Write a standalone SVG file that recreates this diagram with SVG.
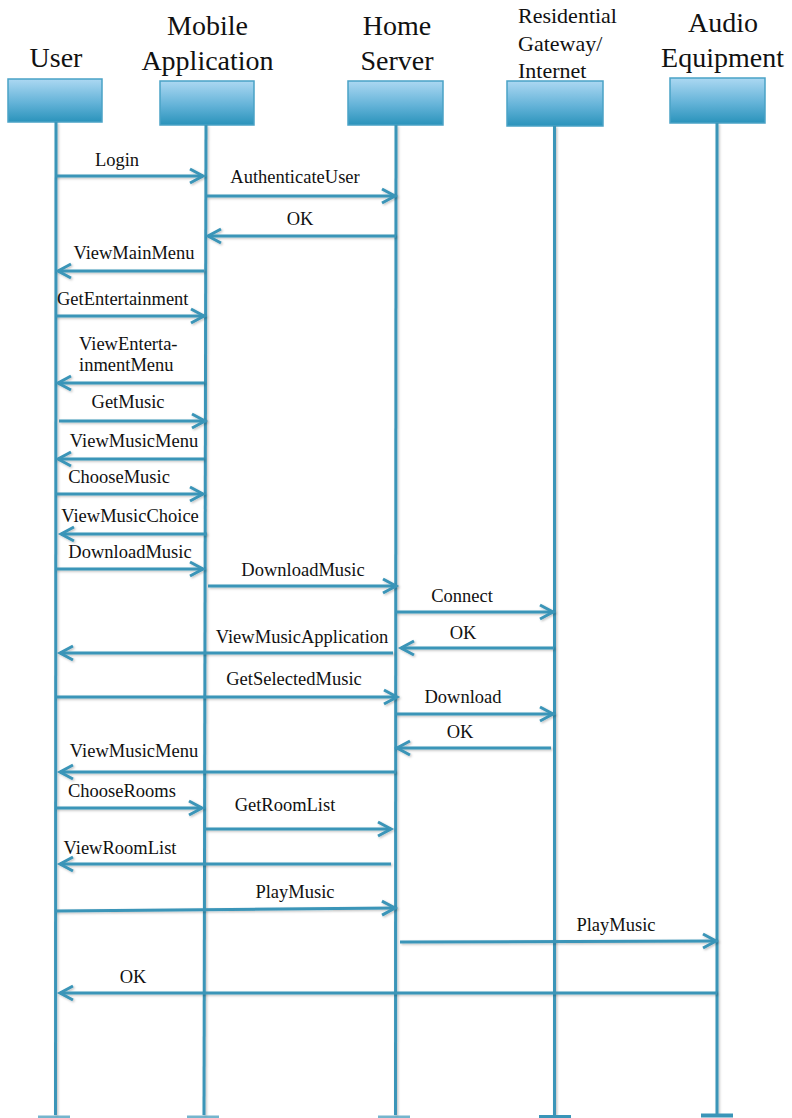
<svg xmlns="http://www.w3.org/2000/svg" width="792" height="1118" viewBox="0 0 792 1118">
  <defs>
    <linearGradient id="boxFill" x1="0" y1="0" x2="0" y2="1">
      <stop offset="0" stop-color="#acd8f2"/>
      <stop offset="0.55" stop-color="#64b3d8"/>
      <stop offset="1" stop-color="#2a93bb"/>
    </linearGradient>
    <!-- soft shadow under lines; user-space region so straight vertical lines keep it -->
    <filter id="shade" filterUnits="userSpaceOnUse" x="0" y="0" width="792" height="1118">
      <feDropShadow dx="1.2" dy="1.2" stdDeviation="0.8" flood-color="#000" flood-opacity="0.25"/>
    </filter>
    <marker id="head" markerUnits="userSpaceOnUse" markerWidth="20" markerHeight="20" viewBox="-16 -10 20 20" refX="0" refY="0" orient="auto" overflow="visible">
      <path d="M-13,-7 L0,0 L-13,7" fill="none" stroke="#3a95b8" stroke-width="3" stroke-linejoin="miter"/>
    </marker>
    <style>
      .hdr { font-family: "Liberation Serif", "Times New Roman", serif; font-size: 28px; fill: #111; text-anchor: middle; }
      .hdr-sm { font-family: "Liberation Serif", "Times New Roman", serif; font-size: 22px; fill: #111; }
      .box { fill: url(#boxFill); stroke: #4aa2c6; stroke-width: 1.5; }
      .life { stroke: #3a95b8; stroke-width: 3; fill: none; }
      .foot { fill: #3a95b8; }
      .msg { stroke: #3a95b8; stroke-width: 3; fill: none; marker-end: url(#head); }
      .lbl { font-family: "Liberation Serif", "Times New Roman", serif; font-size: 18.5px; fill: #111; text-anchor: middle; }
      .lbl-l { font-family: "Liberation Serif", "Times New Roman", serif; font-size: 18.5px; fill: #111; }
    </style>
  </defs>

  <rect width="792" height="1118" fill="#fff"/>

  <!-- participants -->
  <g id="user">
    <text class="hdr" x="56" y="67">User</text>
    <rect class="box" x="8" y="79" width="94" height="43"/>
    <path class="life" d="M56,122 L55.5,1115" filter="url(#shade)"/>
    <rect class="foot" x="38" y="1115.5" width="32" height="2.5" opacity="0.7"/>
  </g>
  <g id="mobile-app">
    <text class="hdr" x="207.5" y="35">Mobile</text>
    <text class="hdr" x="207.5" y="70">Application</text>
    <rect class="box" x="160" y="81" width="94" height="44"/>
    <path class="life" d="M206,125 L204,1115" filter="url(#shade)"/>
    <rect class="foot" x="187" y="1115.5" width="32" height="2.5" opacity="0.7"/>
  </g>
  <g id="home-server">
    <text class="hdr" x="397" y="35">Home</text>
    <text class="hdr" x="397" y="70">Server</text>
    <rect class="box" x="348" y="81" width="95" height="44"/>
    <path class="life" d="M396,125 L395.5,1115" filter="url(#shade)"/>
    <rect class="foot" x="378" y="1115.5" width="32" height="2.5" opacity="0.7"/>
  </g>
  <g id="gateway">
    <text class="hdr-sm" x="518" y="23">Residential</text>
    <text class="hdr-sm" x="518" y="51">Gateway/</text>
    <text class="hdr-sm" x="518" y="78">Internet</text>
    <rect class="box" x="507" y="81" width="96" height="45"/>
    <path class="life" d="M554.5,126 L554.5,1115" filter="url(#shade)"/>
    <rect class="foot" x="539" y="1115" width="32" height="3"/>
  </g>
  <g id="audio">
    <text class="hdr" x="723" y="32">Audio</text>
    <text class="hdr" x="722.5" y="67">Equipment</text>
    <rect class="box" x="670" y="78" width="95" height="45"/>
    <path class="life" d="M717,123 L717,1114" filter="url(#shade)"/>
    <rect class="foot" x="701" y="1113.5" width="32" height="4"/>
  </g>

  <!-- messages -->
  <g id="connectors" filter="url(#shade)">
    <path class="msg" d="M56,176 L203,176"/>
    <path class="msg" d="M207,196 L395,196"/>
    <path class="msg" d="M396,236 L208,236"/>
    <path class="msg" d="M204,271 L58,271"/>
    <path class="msg" d="M56,316 L204,316"/>
    <path class="msg" d="M204,383 L58,383"/>
    <path class="msg" d="M59,421 L205,421"/>
    <path class="msg" d="M204,459 L58,459"/>
    <path class="msg" d="M56,494 L203,494"/>
    <path class="msg" d="M207,534 L61,534"/>
    <path class="msg" d="M56,569 L203,569"/>
    <path class="msg" d="M208,586 L396,586"/>
    <path class="msg" d="M396,612 L553,612"/>
    <path class="msg" d="M554,648 L401,648"/>
    <path class="msg" d="M393,653 L60,653"/>
    <path class="msg" d="M56,697 L397,697"/>
    <path class="msg" d="M396,714 L553,714"/>
    <path class="msg" d="M551,748 L397,748"/>
    <path class="msg" d="M396,772 L60,772"/>
    <path class="msg" d="M56,808 L202,808"/>
    <path class="msg" d="M205,829 L391,829"/>
    <path class="msg" d="M391,864 L60,864"/>
    <path class="msg" d="M56,911 L395,908"/>
    <path class="msg" d="M400,942 L716,941"/>
    <path class="msg" d="M717,993 L60,993"/>
  </g>

  <!-- message labels -->
  <g id="labels">
    <text class="lbl" x="117" y="166">Login</text>
    <text class="lbl" x="295" y="183">AuthenticateUser</text>
    <text class="lbl" x="300" y="225">OK</text>
    <text class="lbl" x="134" y="259">ViewMainMenu</text>
    <text class="lbl-l" x="57" y="305">GetEntertainment</text>
    <text class="lbl-l" x="79" y="350">ViewEnterta-</text>
    <text class="lbl-l" x="79" y="371">inmentMenu</text>
    <text class="lbl" x="128" y="408">GetMusic</text>
    <text class="lbl" x="134" y="447">ViewMusicMenu</text>
    <text class="lbl" x="119" y="483">ChooseMusic</text>
    <text class="lbl" x="130" y="522">ViewMusicChoice</text>
    <text class="lbl" x="130" y="558">DownloadMusic</text>
    <text class="lbl" x="303" y="576">DownloadMusic</text>
    <text class="lbl" x="462" y="602">Connect</text>
    <text class="lbl" x="463" y="639">OK</text>
    <text class="lbl" x="302" y="643">ViewMusicApplication</text>
    <text class="lbl" x="294" y="685">GetSelectedMusic</text>
    <text class="lbl" x="463" y="703">Download</text>
    <text class="lbl" x="460" y="738">OK</text>
    <text class="lbl" x="134" y="757">ViewMusicMenu</text>
    <text class="lbl" x="122" y="797">ChooseRooms</text>
    <text class="lbl" x="285" y="811">GetRoomList</text>
    <text class="lbl" x="120" y="854">ViewRoomList</text>
    <text class="lbl" x="295" y="898">PlayMusic</text>
    <text class="lbl" x="616" y="931">PlayMusic</text>
    <text class="lbl" x="133" y="983">OK</text>
  </g>
</svg>
